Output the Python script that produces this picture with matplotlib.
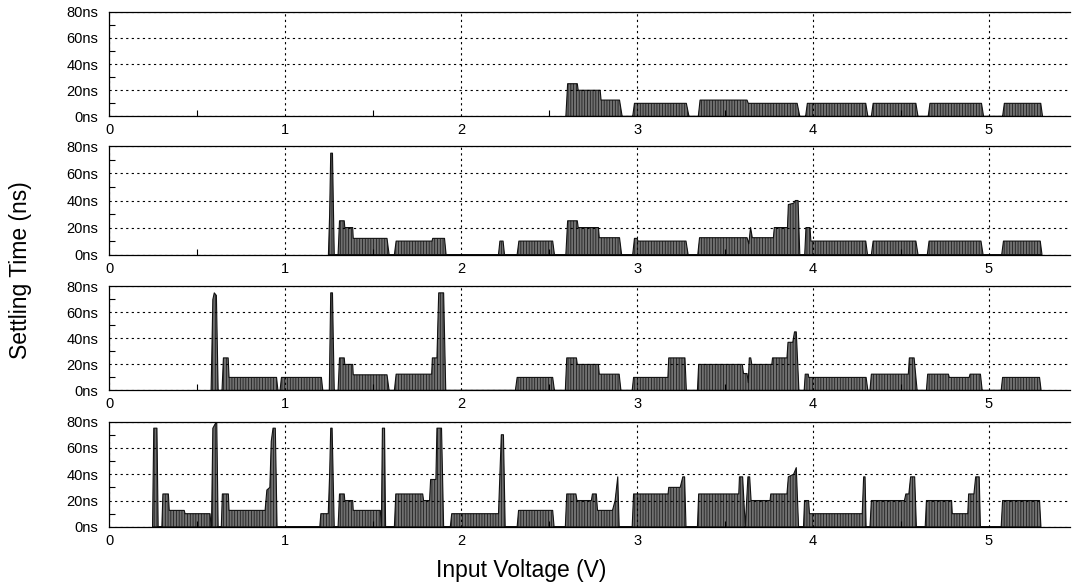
import numpy as np
import matplotlib.pyplot as plt
from matplotlib.ticker import MultipleLocator, FuncFormatter

plt.rcParams['font.family'] = ['Liberation Sans', 'DejaVu Sans']
plt.rcParams['hatch.linewidth'] = 0.5

# settling time (ns) vs input voltage (V), one pair of lists per panel
v1 = [2.595, 2.605, 2.660, 2.665, 2.790, 2.795, 2.900, 2.915,
      2.975, 2.985, 3.280, 3.295,
      3.348, 3.358, 3.625, 3.632, 3.910, 3.925,
      3.958, 3.968, 4.300, 4.312,
      4.332, 4.342, 4.585, 4.597,
      4.655, 4.665, 4.958, 4.970,
      5.078, 5.088, 5.295, 5.305]
t1 = [0, 25, 25, 20, 20, 12.5, 12.5, 0,
      0, 10, 10, 0,
      0, 12.5, 12.5, 10, 10, 0,
      0, 10, 10, 0,
      0, 10, 10, 0,
      0, 10, 10, 0,
      0, 10, 10, 0]

v2 = [1.245, 1.252, 1.258, 1.268, 1.278,
      1.300, 1.308, 1.335, 1.338, 1.383, 1.386, 1.578, 1.590,
      1.620, 1.630, 1.834, 1.838, 1.905, 1.914,
      2.212, 2.220, 2.238, 2.246,
      2.318, 2.328, 2.520, 2.530,
      2.595, 2.605, 2.660, 2.665, 2.780, 2.785, 2.900, 2.912,
      2.975, 2.985, 3.000, 3.005, 3.278, 3.290,
      3.345, 3.355, 3.625, 3.635, 3.645, 3.655, 3.775, 3.780, 3.855, 3.860, 3.890, 3.900, 3.915, 3.925,
      3.953, 3.960, 3.983, 3.988, 4.300, 4.310,
      4.332, 4.342, 4.585, 4.597,
      4.650, 4.660, 4.955, 4.967,
      5.073, 5.083, 5.292, 5.302]
t2 = [0, 30, 75, 75, 0,
      0, 25, 25, 20, 20, 12, 12, 0,
      0, 10, 10, 12, 12, 0,
      0, 10, 10, 0,
      0, 10, 10, 0,
      0, 25, 25, 20, 20, 12.5, 12.5, 0,
      0, 12, 12, 10, 10, 0,
      0, 12.5, 12.5, 8, 20, 12.5, 12.5, 20, 20, 37, 38, 40, 40, 0,
      0, 20, 20, 10, 10, 0,
      0, 10, 10, 0,
      0, 10, 10, 0,
      0, 10, 10, 0]

v3 = [0.578, 0.588, 0.596, 0.608, 0.618,
      0.640, 0.648, 0.675, 0.680, 0.950, 0.958,
      0.970, 0.978, 1.205, 1.213,
      1.250, 1.258, 1.268, 1.278,
      1.300, 1.308, 1.335, 1.338, 1.383, 1.386, 1.578, 1.590,
      1.620, 1.630, 1.832, 1.836, 1.862, 1.872, 1.900, 1.912,
      2.308, 2.318, 2.520, 2.530,
      2.592, 2.600, 2.655, 2.660, 2.780, 2.785, 2.898, 2.908,
      2.972, 2.980, 3.175, 3.180, 3.272, 3.280,
      3.343, 3.350, 3.598, 3.605, 3.625, 3.632, 3.638, 3.646, 3.652, 3.766, 3.770, 3.852, 3.858, 3.885, 3.895, 3.905, 3.920,
      3.950, 3.956, 3.973, 3.976, 4.302, 4.312,
      4.324, 4.332, 4.542, 4.548, 4.575, 4.592,
      4.645, 4.652, 4.770, 4.775, 4.888, 4.893, 4.952, 4.962,
      5.070, 5.078, 5.288, 5.297]
t3 = [0, 70, 75, 73, 0,
      0, 25, 25, 10, 10, 0,
      0, 10, 10, 0,
      0, 75, 75, 0,
      0, 25, 25, 20, 20, 12, 12, 0,
      0, 12.5, 12.5, 25, 25, 75, 75, 0,
      0, 10, 10, 0,
      0, 25, 25, 20, 20, 12.5, 12.5, 0,
      0, 10, 10, 25, 25, 0,
      0, 20, 20, 13, 13, 6, 25, 25, 20, 20, 25, 25, 37, 37, 45, 45, 0,
      0, 12.5, 12.5, 10, 10, 0,
      0, 12.5, 12.5, 25, 25, 0,
      0, 12.5, 12.5, 10, 10, 12.5, 12.5, 0,
      0, 10, 10, 0]

v4 = [0.245, 0.252, 0.270, 0.277,
      0.298, 0.304, 0.335, 0.340, 0.425, 0.430, 0.572, 0.578,
      0.580, 0.588, 0.600, 0.610, 0.618,
      0.636, 0.642, 0.676, 0.680, 0.885, 0.895, 0.912, 0.920, 0.930, 0.943, 0.953,
      1.196, 1.202, 1.244, 1.252, 1.258, 1.266, 1.278,
      1.300, 1.308, 1.335, 1.338, 1.383, 1.386, 1.540, 1.546, 1.552, 1.564, 1.570,
      1.620, 1.628, 1.781, 1.786, 1.820, 1.826, 1.856, 1.862, 1.888, 1.900,
      1.938, 1.946, 2.212, 2.220, 2.228, 2.240, 2.250,
      2.318, 2.326, 2.520, 2.528,
      2.592, 2.600, 2.652, 2.658, 2.740, 2.746, 2.768, 2.775, 2.860, 2.875, 2.890, 2.898,
      2.972, 2.980, 3.176, 3.180, 3.245, 3.260, 3.270, 3.278,
      3.343, 3.350, 3.578, 3.582, 3.600, 3.615, 3.630, 3.640, 3.648, 3.756, 3.760, 3.852, 3.860, 3.890, 3.905, 3.918,
      3.946, 3.952, 3.975, 3.980, 4.280, 4.288, 4.296, 4.302,
      4.324, 4.332, 4.520, 4.528, 4.545, 4.555, 4.578, 4.588,
      4.638, 4.645, 4.788, 4.792, 4.880, 4.885, 4.915, 4.925, 4.945, 4.952,
      5.070, 5.078, 5.288, 5.296]
t4 = [0, 75, 75, 0,
      0, 25, 25, 12.5, 12.5, 10, 10, 0,
      0, 75, 78, 80, 0,
      0, 25, 25, 12.5, 12.5, 28, 30, 65, 75, 75, 0,
      0, 10, 10, 40, 75, 75, 0,
      0, 25, 25, 20, 20, 12.5, 12.5, 0, 75, 75, 0,
      0, 25, 25, 20, 20, 36, 36, 75, 75, 0,
      0, 10, 10, 40, 70, 70, 0,
      0, 12.5, 12.5, 0,
      0, 25, 25, 20, 20, 25, 25, 12.5, 12.5, 20, 38, 0,
      0, 25, 25, 30, 30, 38, 38, 0,
      0, 25, 25, 38, 38, 0, 38, 38, 20, 20, 25, 25, 38, 40, 45, 0,
      0, 20, 20, 10, 10, 38, 38, 0,
      0, 20, 20, 25, 25, 38, 38, 0,
      0, 20, 20, 10, 10, 25, 25, 38, 38, 0,
      0, 20, 20, 0]

panels = [(v1, t1), (v2, t2), (v3, t3), (v4, t4)]
xticks = [0, 1, 2, 3, 4, 5]
yticks = [0, 20, 40, 60, 80]

fig = plt.figure(figsize=(10.73, 5.88), dpi=100)
tops = [0.980, 0.751, 0.513, 0.283]
bots = [0.802, 0.567, 0.336, 0.104]
left, right = 0.102, 0.997

for (v, t), top, bot in zip(panels, tops, bots):
    ax = fig.add_axes([left, bot, right - left, top - bot])
    ax.fill_between(v, t, 0, facecolor='#707070', edgecolor='#111111',
                    hatch='||||||', linewidth=0.8)
    ax.set_xlim(0, 5.46)
    ax.set_ylim(0, 80)
    ax.set_xticks(xticks)
    ax.set_yticks(yticks)
    ax.yaxis.set_major_formatter(FuncFormatter(lambda y, p: '%dns' % y))
    ax.yaxis.set_minor_locator(MultipleLocator(10))
    ax.xaxis.set_minor_locator(MultipleLocator(0.5))
    ax.tick_params(which='major', length=0, labelsize=10.5, pad=5)
    ax.tick_params(which='minor', direction='in', length=4, width=0.8)
    ax.tick_params(axis='y', which='major', pad=8)
    ax.grid(True, which='major', color='black', linestyle=(0, (2, 3)), linewidth=0.8)
    ax.spines['right'].set_visible(False)
    for s in ['left', 'bottom', 'top']:
        ax.spines[s].set_linewidth(0.9)

fig.text(0.019, 0.54, 'Settling Time (ns)', rotation=90, ha='center', va='center', fontsize=16.5)
fig.text(0.486, 0.030, 'Input Voltage (V)', ha='center', va='center', fontsize=16.5)

plt.savefig('out.png', dpi=100)
